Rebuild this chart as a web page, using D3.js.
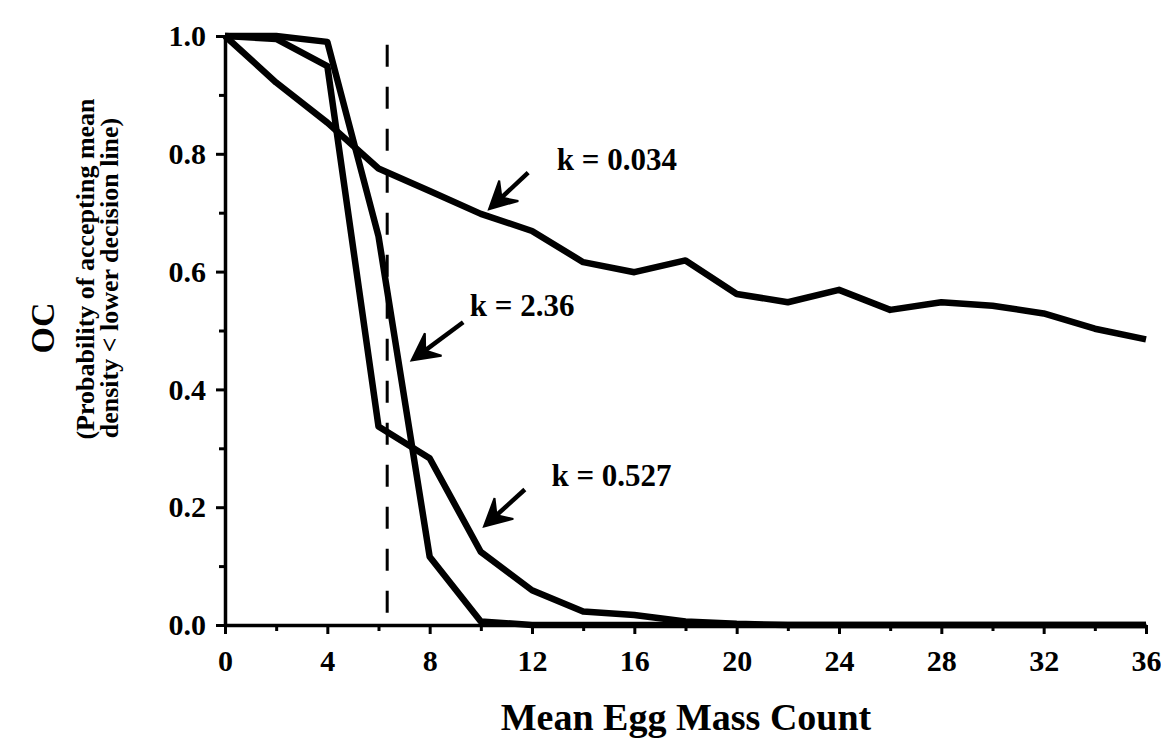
<!DOCTYPE html>
<html>
<head>
<meta charset="utf-8">
<script src="https://cdn.jsdelivr.net/npm/d3@7/dist/d3.min.js"></script>
<style>
  body { margin: 0; background: #fff; }
  text { font-family: "Liberation Serif", "Times New Roman", serif; font-weight: bold; fill: #000; }
</style>
</head>
<body>
<svg width="1161" height="739"></svg>
<script>
// mean egg mass count (x) and OC values
const counts = [0, 2, 4, 6, 8, 10, 12, 14, 16, 18, 20, 22, 24, 26, 28, 30, 32, 34, 36];
const ocK034 = [1.0, 0.921, 0.853, 0.775, 0.737, 0.698, 0.669, 0.616, 0.599, 0.619,
                0.562, 0.548, 0.569, 0.535, 0.548, 0.542, 0.529, 0.503, 0.485];
const ocK236 = [1.0, 1.0, 0.99, 0.66, 0.116, 0.006, 0, 0, 0, 0, 0, 0, 0, 0, 0, 0, 0, 0, 0];
const ocK527 = [1.0, 0.995, 0.949, 0.337, 0.283, 0.124, 0.059, 0.023, 0.017, 0.006,
                0.002, 0, 0, 0, 0, 0, 0, 0, 0];
const decisionLine = 6.34;

const xTickValues = [0, 4, 8, 12, 16, 20, 24, 28, 32, 36];
const xMinorValues = [2, 6, 10, 14, 18, 22, 26, 30, 34];
const yTickValues = [0, 0.2, 0.4, 0.6, 0.8, 1.0];
const yMinorValues = [0.1, 0.3, 0.5, 0.7, 0.9];

// annotation text + arrow (tail -> tip) in data units
const labelNames = ['k = 0.034', 'k = 2.36', 'k = 0.527'];
const labelAt = [[12.97, 0.773], [9.57, 0.524], [12.76, 0.236]];
const arrowTail = [[11.85, 0.768], [9.31, 0.514], [11.72, 0.230]];
const arrowTip = [[10.32, 0.706], [7.29, 0.449], [10.12, 0.167]];

const svg = d3.select('svg');

const x = d3.scaleLinear().domain([0, 36]).range([225, 1146]);
const y = d3.scaleLinear().domain([0, 1]).range([625, 36]);

// axes
const yAxisG = svg.append('g')
  .attr('transform', `translate(${x(0)},0)`)
  .call(d3.axisLeft(y).tickValues(yTickValues).tickFormat(d3.format('.1f'))
    .tickSize(9).tickSizeOuter(0).tickPadding(10));
yAxisG.append('g')
  .call(d3.axisLeft(y).tickValues(yMinorValues).tickFormat('').tickSize(6).tickSizeOuter(0))
  .select('.domain').remove();

const xAxisG = svg.append('g')
  .attr('transform', `translate(0,${y(0)})`)
  .call(d3.axisBottom(x).tickValues(xTickValues).tickSize(9).tickSizeOuter(0).tickPadding(16));
xAxisG.append('g')
  .call(d3.axisBottom(x).tickValues(xMinorValues).tickFormat('').tickSize(6).tickSizeOuter(0))
  .select('.domain').remove();

svg.selectAll('.domain').attr('stroke', '#000').attr('stroke-width', 3.5);
svg.selectAll('.tick line').attr('stroke', '#000').attr('stroke-width', 3);
svg.selectAll('.tick text')
  .style('font-family', '"Liberation Serif", serif')
  .style('font-weight', 'bold')
  .style('font-size', '30px')
  .attr('fill', '#000');

// decision line
svg.append('line')
  .attr('x1', x(decisionLine)).attr('x2', x(decisionLine))
  .attr('y1', y(0.985)).attr('y2', y(0))
  .attr('stroke', '#000')
  .attr('stroke-width', 3)
  .attr('stroke-dasharray', '22,20');

// OC curves
const line = d3.line()
  .x((d, i) => x(counts[i]))
  .y(d => y(d));

[ocK034, ocK236, ocK527].forEach(series => {
  svg.append('path')
    .datum(series)
    .attr('d', line)
    .attr('fill', 'none')
    .attr('stroke', '#000')
    .attr('stroke-width', 6.5)
    .attr('stroke-linejoin', 'round');
});

// labels with arrows
labelNames.forEach((name, i) => {
  svg.append('text')
    .attr('x', x(labelAt[i][0]))
    .attr('y', y(labelAt[i][1]))
    .style('font-size', '31px')
    .text(name);

  const tx = x(arrowTip[i][0]), ty = y(arrowTip[i][1]);
  const sx = x(arrowTail[i][0]), sy = y(arrowTail[i][1]);
  const ang = Math.atan2(sy - ty, sx - tx) * 180 / Math.PI;
  const len = Math.hypot(sx - tx, sy - ty);
  const a = svg.append('g').attr('transform', `translate(${tx},${ty}) rotate(${ang})`);
  a.append('line')
    .attr('x1', 10).attr('y1', 0).attr('x2', len).attr('y2', 0)
    .attr('stroke', '#000').attr('stroke-width', 4.5);
  a.append('path')
    .attr('d', 'M0,0 L27,-14 L17,0 L27,14 Z')
    .attr('fill', '#000')
    .attr('stroke', '#000')
    .attr('stroke-width', 2)
    .attr('stroke-linejoin', 'miter');
});

// axis titles
svg.append('text')
  .attr('x', 686).attr('y', 730)
  .attr('text-anchor', 'middle')
  .style('font-size', '38px')
  .text('Mean Egg Mass Count');

const yTitle = svg.append('text')
  .attr('transform', 'rotate(-90)')
  .attr('text-anchor', 'middle');
yTitle.append('tspan')
  .attr('x', -328).attr('y', 54)
  .style('font-size', '34px')
  .text('OC');
yTitle.append('tspan')
  .attr('x', -269).attr('y', 94)
  .style('font-size', '26px')
  .text('(Probability of accepting mean');
yTitle.append('tspan')
  .attr('x', -278).attr('y', 118)
  .style('font-size', '26px')
  .text('density < lower decision line)');
</script>
</body>
</html>
